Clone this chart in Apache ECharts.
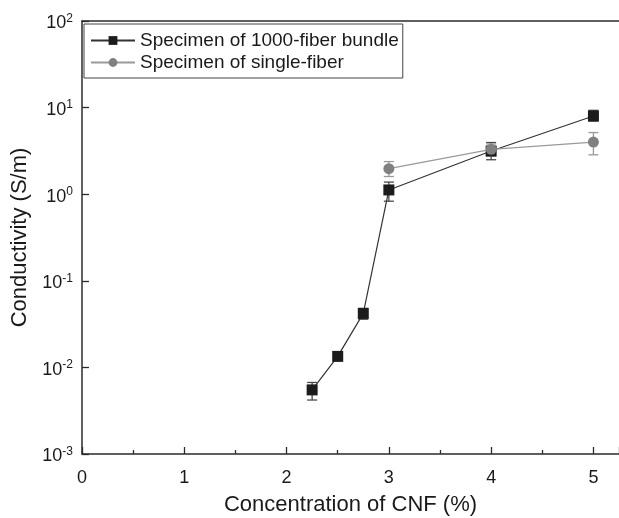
<!DOCTYPE html>
<html>
<head>
<meta charset="utf-8">
<script src="https://cdn.jsdelivr.net/npm/echarts@6/dist/echarts.min.js"></script>
<style>
html,body{margin:0;padding:0;background:#fff;}
#c{width:619px;height:518px;}
</style>
</head>
<body>
<div id="c"></div>
<script>
// Data
var bundleX = [2.25, 2.5, 2.75, 3, 4, 5];
var bundleY = [0.0055, 0.0134, 0.042, 1.12, 3.15, 8.0];
var bundleLow = [0.0042, 0.0125, 0.036, 0.83, 2.5, 7.0];
var bundleHigh = [0.0067, 0.0145, 0.048, 1.38, 3.95, 9.3];

var singleX = [3, 4, 5];
var singleY = [1.97, 3.3, 4.0];
var singleLow = [1.6, 2.75, 2.85];
var singleHigh = [2.38, 3.8, 5.15];

var seriesNames = ['Specimen of 1000-fiber bundle', 'Specimen of single-fiber'];
var xTicks = [0, 1, 2, 3, 4, 5];
var yTickExps = [-3, -2, -1, 0, 1, 2];

function pairs(xs, ys) { return xs.map(function (x, i) { return [x, ys[i]]; }); }
function errs(xs, lo, hi) { return xs.map(function (x, i) { return [x, lo[i], hi[i]]; }); }

function errRender(color) {
  return function (params, api) {
    var x = api.value(0);
    var lo = api.coord([x, api.value(1)]);
    var hi = api.coord([x, api.value(2)]);
    var w = 5;
    var st = { stroke: color, lineWidth: 1.3 };
    return {
      type: 'group',
      children: [
        { type: 'line', shape: { x1: lo[0], y1: lo[1], x2: hi[0], y2: hi[1] }, style: st },
        { type: 'line', shape: { x1: lo[0] - w, y1: lo[1], x2: lo[0] + w, y2: lo[1] }, style: st },
        { type: 'line', shape: { x1: hi[0] - w, y1: hi[1], x2: hi[0] + w, y2: hi[1] }, style: st }
      ]
    };
  };
}

var chart = echarts.init(document.getElementById('c'), null, { renderer: 'canvas' });
var axisColor = '#2b2b2b';
var font = 'Liberation Sans, Arial, sans-serif';

chart.setOption({
  animation: false,
  backgroundColor: '#fff',
  textStyle: { fontFamily: font },
  grid: { left: 82, right: 0, top: 21, bottom: 64, containLabel: false, outerBoundsMode: 'none' },
  legend: {
    data: seriesNames,
    orient: 'vertical',
    left: 84,
    top: 24,
    borderColor: '#444',
    borderWidth: 1,
    padding: [7, 4, 6, 6],
    itemGap: 3,
    itemWidth: 44,
    itemHeight: 11,
    textStyle: { fontSize: 19, color: '#1a1a1a', fontFamily: font, padding: [0, 0, 0, 0] }
  },
  xAxis: [{
    type: 'value',
    min: 0,
    max: 5.25,
    interval: 1,
    name: 'Concentration of CNF (%)',
    nameLocation: 'middle',
    nameGap: 40,
    nameTextStyle: { fontSize: 22, color: '#1a1a1a', fontFamily: font },
    axisLine: { show: true, onZero: false, lineStyle: { color: axisColor, width: 1.5 } },
    axisTick: { show: true, inside: true, length: 7, lineStyle: { color: axisColor, width: 1.3 } },
    minorTick: { show: true, splitNumber: 2, length: 4, lineStyle: { color: axisColor, width: 1.3 } },
    axisLabel: {
      fontSize: 18, color: '#1a1a1a', margin: 15, showMaxLabel: false,
      formatter: function (v) { return xTicks.indexOf(v) >= 0 ? String(v) : ''; }
    },
    splitLine: { show: false }
  }, {
    type: 'value',
    position: 'top',
    min: 0,
    max: 5.25,
    axisLine: { show: true, onZero: false, lineStyle: { color: axisColor, width: 1.5 } },
    axisTick: { show: false },
    axisLabel: { show: false },
    splitLine: { show: false }
  }],
  yAxis: {
    type: 'log',
    logBase: 10,
    min: Math.pow(10, yTickExps[0]),
    max: Math.pow(10, yTickExps[yTickExps.length - 1]),
    name: 'Conductivity (S/m)',
    nameLocation: 'middle',
    nameGap: 49,
    nameTextStyle: { fontSize: 22, color: '#1a1a1a', fontFamily: font },
    axisLine: { show: true, onZero: false, lineStyle: { color: axisColor, width: 1.5 } },
    axisTick: { show: true, inside: true, length: 7, lineStyle: { color: axisColor, width: 1.3 } },
    axisLabel: {
      margin: 9,
      padding: [5, 0, 0, 0],
      color: '#1a1a1a',
      formatter: function (v) {
        var e = Math.round(Math.log10(v));
        return '{b|10}{s|' + e + '}';
      },
      rich: {
        b: { fontSize: 18, color: '#1a1a1a', fontFamily: font },
        s: { fontSize: 12, color: '#1a1a1a', fontFamily: font, padding: [0, 0, 10, 0] }
      }
    },
    splitLine: { show: false }
  },
  series: [
    {
      name: seriesNames[0] + ' err',
      type: 'custom',
      renderItem: errRender('#4a4a4a'),
      data: errs(bundleX, bundleLow, bundleHigh),
      z: 1
    },
    {
      name: seriesNames[1] + ' err',
      type: 'custom',
      renderItem: errRender('#9a9a9a'),
      data: errs(singleX, singleLow, singleHigh),
      z: 1
    },
    {
      name: seriesNames[0],
      type: 'line',
      data: pairs(bundleX, bundleY),
      symbol: 'rect',
      symbolSize: 11,
      itemStyle: { color: '#1c1c1c' },
      lineStyle: { color: '#333', width: 1.2 },
      z: 3
    },
    {
      name: seriesNames[1],
      type: 'line',
      data: pairs(singleX, singleY),
      symbol: 'circle',
      symbolSize: 11,
      itemStyle: { color: '#808080' },
      lineStyle: { color: '#9a9a9a', width: 1.2 },
      z: 4
    }
  ]
});
</script>
</body>
</html>
